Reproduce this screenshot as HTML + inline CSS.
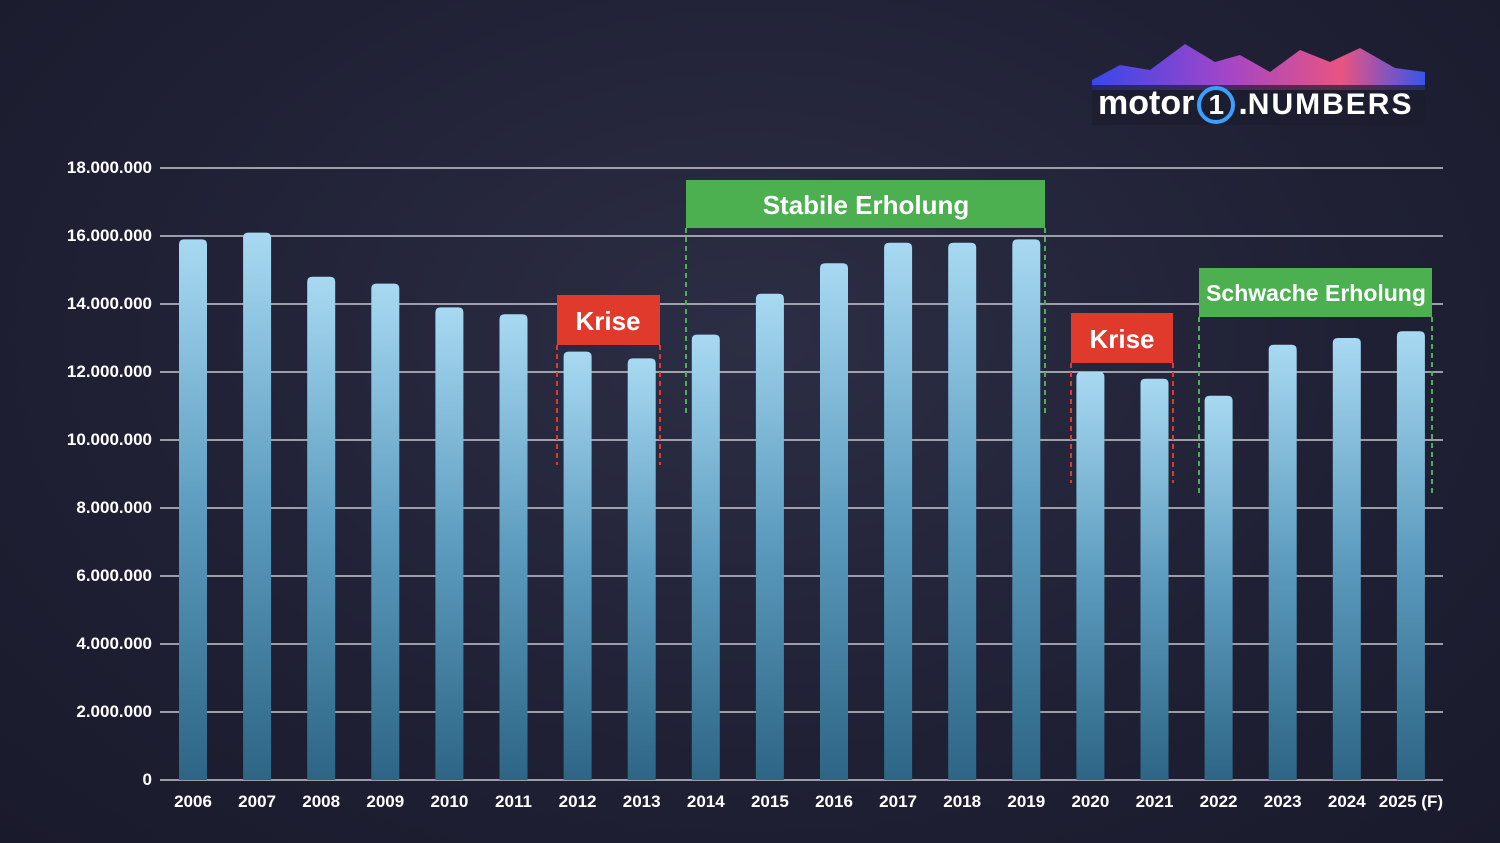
<!DOCTYPE html>
<html><head><meta charset="utf-8"><style>
html,body{margin:0;padding:0}
body{width:1500px;height:843px;overflow:hidden;background:radial-gradient(ellipse at 50% 40%,#2c2e45 0%,#1f2034 60%,#191a2b 100%);font-family:"Liberation Sans",sans-serif;position:relative}
.t{position:absolute;color:#fff;font-weight:bold;font-size:17px}
.yl{right:1348px;text-align:right}
</style></head><body>
<svg width="1500" height="843" style="position:absolute;left:0;top:0">
<defs>
<linearGradient id="bg" x1="0" y1="0" x2="0" y2="1"><stop offset="0" stop-color="#a8d9f2"/><stop offset="0.5" stop-color="#5d9cbf"/><stop offset="1" stop-color="#2d6585"/></linearGradient>
<linearGradient id="lg" x1="0" y1="0" x2="1" y2="0"><stop offset="0" stop-color="#3a4bff"/><stop offset="0.4" stop-color="#b04ad8"/><stop offset="0.75" stop-color="#ff5a8a"/><stop offset="1" stop-color="#3a5bff"/></linearGradient>
</defs>
<g stroke="#e8e8ee" stroke-width="1.3">
<line x1="160" y1="168" x2="1443" y2="168"/><line x1="160" y1="236" x2="1443" y2="236"/><line x1="160" y1="304" x2="1443" y2="304"/><line x1="160" y1="372" x2="1443" y2="372"/><line x1="160" y1="440" x2="1443" y2="440"/><line x1="160" y1="508" x2="1443" y2="508"/><line x1="160" y1="576" x2="1443" y2="576"/><line x1="160" y1="644" x2="1443" y2="644"/><line x1="160" y1="712" x2="1443" y2="712"/><line x1="160" y1="780" x2="1443" y2="780"/>
</g>
<g fill="url(#bg)" id="bars"></g>
<g stroke-dasharray="5,4" stroke-width="2" fill="none">
<path d="M557 345V465M660 345V465M1071 363V483M1173 363V483" stroke="#e03a2c"/>
<path d="M686 228V413M1045 228V413M1199 317V493M1432 317V493" stroke="#4caf50"/>
</g>
<rect x="557" y="295" width="103" height="50" fill="#e03a2c"/>
<rect x="1071" y="313" width="102" height="50" fill="#e03a2c"/>
<rect x="686" y="180" width="359" height="48" fill="#4caf50"/>
<rect x="1199" y="268" width="233" height="49" fill="#4caf50"/>
<path d="M1092 80 L1120 65 L1150 70 L1185 44 L1215 62 L1240 55 L1270 72 L1300 50 L1330 62 L1360 48 L1395 68 L1425 72 L1425 90 L1092 90Z" fill="url(#lg)" opacity="0.9"/>
<rect x="1092" y="85" width="333" height="40" fill="#1b1c2c" opacity="0.7"/>
</svg>
<div class="t" style="left:608px;top:306px;width:0;"><span style="position:absolute;transform:translateX(-50%);font-size:26px">Krise</span></div>
<div class="t" style="left:1122px;top:324px;width:0;"><span style="position:absolute;transform:translateX(-50%);font-size:26px">Krise</span></div>
<div class="t" style="left:866px;top:190px;width:0;"><span style="position:absolute;transform:translateX(-50%);font-size:26px;white-space:nowrap">Stabile Erholung</span></div>
<div class="t" style="left:1316px;top:280px;width:0;"><span style="position:absolute;transform:translateX(-50%);font-size:23px;white-space:nowrap">Schwache Erholung</span></div>
<div class="t" style="left:1098px;top:84px;font-size:34px;white-space:nowrap">motor<span style="display:inline-block;border:4px solid #3aa0ff;border-radius:50%;width:30px;height:30px;line-height:30px;text-align:center;margin:0 3px;font-size:28px">1</span>.<span style="font-size:30px;letter-spacing:2px">NUMBERS</span></div>
<div id="lab"></div>
<script>
var v=[15.9,16.1,14.8,14.6,13.9,13.7,12.6,12.4,13.1,14.3,15.2,15.8,15.8,15.9,12.0,11.8,11.3,12.8,13.0,13.2];
var g=document.getElementById('bars'),h='',L='';
for(var i=0;i<20;i++){var c=193+i*64.1,t=780-v[i]*34;
h+='<path d="M'+(c-14)+' 780V'+(t+5)+'Q'+(c-14)+' '+t+' '+(c-9)+' '+t+'H'+(c+9)+'Q'+(c+14)+' '+t+' '+(c+14)+' '+(t+5)+'V780Z"/>';
var y=(2006+i)+(i==19?' (F)':'');
L+='<div class="t" style="left:'+(c-50+(i==19?0:0))+'px;width:100px;text-align:center;top:792px">'+y+'</div>';}
g.innerHTML=h;
var yl=['18.000.000','16.000.000','14.000.000','12.000.000','10.000.000','8.000.000','6.000.000','4.000.000','2.000.000','0'];
for(var j=0;j<10;j++)L+='<div class="t yl" style="top:'+(158+j*68)+'px">'+yl[j]+'</div>';
document.getElementById('lab').innerHTML=L;
</script>
</body></html>
